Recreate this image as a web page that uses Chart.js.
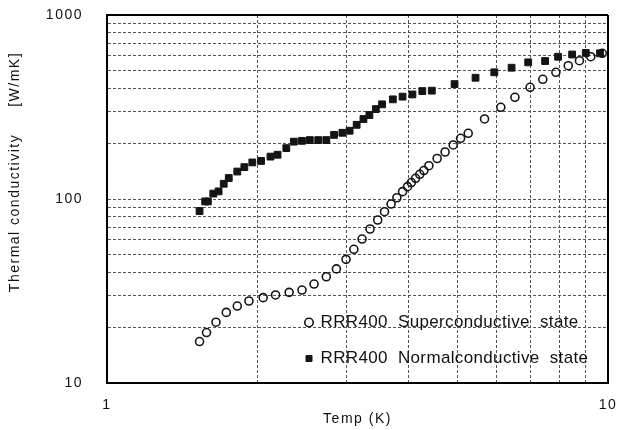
<!DOCTYPE html>
<html><head><meta charset="utf-8">
<script src="https://cdn.jsdelivr.net/npm/chart.js@4.4.1/dist/chart.umd.min.js"></script>
<style>html,body{margin:0;padding:0;background:#fff}#wrap{width:621px;height:430px}</style>
</head><body><div id="wrap"><canvas id="c" width="621" height="430"></canvas></div>
<script>
const tempSuper = [1.53,1.58,1.65,1.73,1.82,1.92,2.05,2.17,2.31,2.45,2.59,2.74,2.87,3.00,3.11,3.23,3.35,3.47,3.58,3.69,3.79,3.89,3.98,4.05,4.13,4.21,4.29,4.39,4.56,4.73,4.91,5.08,5.26,5.67,6.11,6.52,6.99,7.41,7.87,8.33,8.77,9.24,9.74];
const kSuper = [16.8,18.8,21.4,24.2,26.2,27.9,29.1,30.1,31.1,32.0,34.5,37.8,41.7,47.0,53.3,60.6,68.7,76.9,85.3,93.9,101.6,109.6,116.7,122.9,129.6,136.2,142.8,151.7,166.0,180.1,196.6,213.8,227.6,272.2,315.1,357.0,404.6,447.2,488.1,530.3,564.4,593.4,619.2];
const tempNormal = [1.53,1.57,1.59,1.63,1.67,1.71,1.75,1.82,1.88,1.95,2.03,2.12,2.19,2.28,2.36,2.45,2.54,2.64,2.74,2.84,2.95,3.05,3.15,3.25,3.34,3.44,3.54,3.72,3.89,4.07,4.26,4.45,4.94,5.44,5.93,6.42,6.93,7.49,7.95,8.48,9.03,9.64];
const kNormal = [86,97,97,107,110,121,130,141,149,158,161,170,174,189,205,207,209,209,209,223,229,235,253,272,286,308,327,348,360,370,386,388,421,456,488,517,553,562,593,610,622,619];
const xTicks = [1,2,3,4,5,6,7,8,9,10];
const yTicks = [10,20,30,40,50,60,70,80,90,100,200,300,400,500,600,700,800,900,1000];
const xTickLabels = [1,10];
const yTickLabels = [10,100,1000];
const xTitle = 'Temp (K)';
const yTitle = '          Thermal conductivity     [W/mK]';
const seriesNames = ['RRR400  Superconductive  state','RRR400  Normalconductive  state'];

const FONT = '"Liberation Sans", Arial, Helvetica, sans-serif';
const INK = '#141414';

const spacingPlugin = {
  id: 'spacing',
  beforeLayout(chart){ chart.ctx.letterSpacing = '1.5px'; },
  beforeDraw(chart){ chart.ctx.letterSpacing = '1.5px'; },
  afterLayout(chart){
    const lg = chart.legend; if (!lg) return;
    lg.left = 287; lg.right = 612; lg.top = 295; lg.bottom = 420;
    lg.width = lg.right - lg.left; lg.height = lg.bottom - lg.top;
    if (!lg._ls) {
      const o = lg.draw;
      lg.draw = function(a){ const c = this.ctx; const s = c.letterSpacing; c.letterSpacing = '0.35px'; o.call(this, a); c.letterSpacing = s; };
      lg._ls = true;
    }
  }
};

function edgeOf(list){ return v => v === list[0] || v === list[list.length-1]; }
const edgeX = edgeOf(xTicks), edgeY = edgeOf(yTicks);

function axisGrid(isEdge){
  return {
    color: c => (c.tick && isEdge(c.tick.value)) ? '#000' : '#555',
    lineWidth: c => (c.tick && isEdge(c.tick.value)) ? 2 : 1,
    drawTicks: false
  };
}
function axisBorder(isEdge){
  return { display: true, color: '#000', width: 2,
    dash: c => (c.tick && !isEdge(c.tick.value)) ? [3,2] : [] };
}
function noPad(s){ s.paddingTop = 0; s.paddingBottom = 0; s.paddingLeft = 0; s.paddingRight = 0; }

new Chart(document.getElementById('c'), {
  type: 'scatter',
  data: {
    datasets: [
      { label: seriesNames[0], data: tempSuper.map((t,i)=>({x:t, y:kSuper[i]})),
        pointStyle: 'circle', pointRadius: 4, pointBorderWidth: 1.6,
        pointBorderColor: INK, pointBackgroundColor: 'rgba(0,0,0,0)',
        borderColor: INK, backgroundColor: 'rgba(0,0,0,0)', showLine: false },
      { label: seriesNames[1], data: tempNormal.map((t,i)=>({x:t, y:kNormal[i]})),
        pointStyle: 'rect', pointRadius: 4.8, pointBorderWidth: 1,
        pointBorderColor: INK, pointBackgroundColor: INK,
        borderColor: INK, backgroundColor: INK, showLine: false }
    ]
  },
  options: {
    responsive: false, animation: false, events: [],
    layout: { autoPadding: false, padding: { top: 15, right: 13, left: 0, bottom: 0 } },
    plugins: {
      tooltip: { enabled: false },
      legend: {
        position: 'chartArea', align: 'start',
        labels: { usePointStyle: true, boxWidth: 6, boxHeight: 6, padding: 19,
          color: '#111', font: { family: FONT, size: 17 } }
      }
    },
    scales: {
      x: {
        type: 'logarithmic', position: 'bottom', min: 1, max: 10,
        afterBuildTicks: s => { s.ticks = xTicks.map(v => ({ value: v })); },
        afterFit: s => { s.height = 47; noPad(s); },
        grid: axisGrid(edgeX), border: axisBorder(edgeX),
        ticks: { autoSkip: false, maxRotation: 0, padding: 14, color: '#111',
          font: { family: FONT, size: 14 },
          callback: v => xTickLabels.includes(v) ? String(v) : '' },
        title: { display: true, text: xTitle, color: '#111',
          font: { family: FONT, size: 14 }, padding: { top: 0, bottom: 2 } }
      },
      y: {
        type: 'logarithmic', position: 'left', min: 10, max: 1000,
        afterBuildTicks: s => { s.ticks = yTicks.map(v => ({ value: v })); },
        afterFit: s => { s.width = 107; noPad(s); },
        grid: axisGrid(edgeY), border: axisBorder(edgeY),
        ticks: { autoSkip: false, padding: 24, color: '#111',
          font: { family: FONT, size: 14 },
          callback: v => yTickLabels.includes(v) ? String(v) : '' },
        title: { display: true, text: yTitle, color: '#111',
          font: { family: FONT, size: 14 }, padding: { top: 7, bottom: 0 } }
      }
    }
  },
  plugins: [spacingPlugin]
});
</script>
</body></html>
